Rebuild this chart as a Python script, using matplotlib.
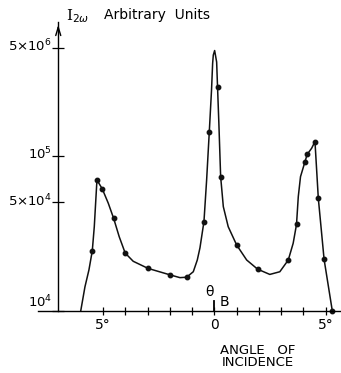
import numpy as np
import matplotlib
matplotlib.use("Agg")
import matplotlib.pyplot as plt
from matplotlib.ticker import NullLocator, FixedLocator
from matplotlib.transforms import ScaledTranslation

# curve: angle of incidence (deg) and I_2w (arbitrary units)
curve_angle = [-6.01, -5.82, -5.64, -5.49, -5.40, -5.34, -5.28, -5.04, -4.77, -4.53,
               -4.28, -4.01, -3.65, -2.98, -2.00, -1.55, -1.25, -0.95, -0.77, -0.65,
               -0.47, -0.35, -0.23, -0.13, -0.08, -0.05, 0.01, 0.10, 0.14, 0.20,
               0.28, 0.40, 0.62, 1.00, 1.45, 1.94, 2.49, 2.94, 3.32, 3.54,
               3.69, 3.77, 3.87, 4.07, 4.17, 4.37, 4.52, 4.67, 4.93, 5.30]
curve_value = [1.0e4, 1.43e4, 1.84e4, 2.44e4, 3.49e4, 4.94e4, 6.98e4, 6.11e4, 4.94e4, 3.95e4,
               3.01e4, 2.36e4, 2.09e4, 1.88e4, 1.71e4, 1.64e4, 1.65e4, 1.79e4, 2.13e4, 2.55e4,
               3.77e4, 6.98e4, 2.39e5, 1.08e6, 2.84e6, 3.84e6, 4.52e6, 2.98e6, 1.22e6, 3.24e5,
               7.33e4, 4.70e4, 3.49e4, 2.66e4, 2.13e4, 1.86e4, 1.72e4, 1.79e4, 2.13e4, 2.73e4,
               3.61e4, 5.45e4, 7.33e4, 9.14e4, 1.05e5, 1.31e5, 1.67e5, 5.32e4, 2.15e4, 1.0e4]

# measured points (dots)
point_angle = [-5.49, -5.28, -5.04, -4.53, -4.01, -2.98, -2.00, -1.25,
               -0.47, -0.23, 0.14, 0.28, 1.00, 1.94, 3.32, 3.69,
               4.07, 4.17, 4.52, 4.67, 4.93, 5.30]
point_value = [2.44e4, 6.98e4, 6.11e4, 3.95e4, 2.36e4, 1.88e4, 1.71e4, 1.65e4,
               3.77e4, 2.39e5, 1.22e6, 7.33e4, 2.66e4, 1.86e4, 2.13e4, 3.61e4,
               9.14e4, 1.05e5, 1.67e5, 5.32e4, 2.15e4, 1.0e4]

ytick_values = [1e4, 5e4, 1e5, 5e6]
ytick_labels = ["10$^4$", "5×10$^4$", "10$^5$", "5×10$^6$"]
xtick_values = [-5, -4, -3, -2, -1, 0, 1, 2, 3, 4, 5]
xtick_labels = ["5°", "", "", "", "", "0", "", "", "", "", "5°"]

# the hand drawn axis is logarithmic but compressed above 10^5
K = 0.4093


def forward(v):
    L = np.log10(np.clip(v, 1e-300, None))
    return np.where(L <= 5, L, 5 + (L - 5) * K)


def inverse(u):
    u = np.asarray(u, dtype=float)
    return np.where(u <= 5, 10.0 ** u, 10.0 ** (5 + (u - 5) / K))


W, H = 341, 373
fig = plt.figure(figsize=(W / 100, H / 100), dpi=100)
ax = fig.add_axes([38 / W, 62 / H, 303 / W, 289 / H])

ax.set_yscale("function", functions=(forward, inverse))
ax.set_xlim(-7.93, 5.69)
ax.set_ylim(1e4, 10 ** 7.104)

ax.plot(curve_angle, curve_value, color="#111111", lw=1.1, solid_joinstyle="round", clip_on=False)
ax.plot(point_angle, point_value, "o", color="#111111", ms=3.2, clip_on=False)

for s in ["top", "right"]:
    ax.spines[s].set_visible(False)
ax.spines["left"].set_position(("data", -7.02))
ax.spines["left"].set_linewidth(1.0)
ax.spines["bottom"].set_linewidth(1.0)

ax.yaxis.set_major_locator(FixedLocator(ytick_values))
ax.set_yticklabels(ytick_labels)
ax.yaxis.set_minor_locator(NullLocator())
ax.tick_params(axis="y", direction="inout", length=9, width=0.9, pad=0, labelsize=9.5)
for lab, dy in zip(ax.get_yticklabels(), [11, 3, 3, 3]):
    lab.set_transform(lab.get_transform() + ScaledTranslation(0, dy / 100, fig.dpi_scale_trans))

ax.set_xticks(xtick_values)
ax.set_xticklabels(xtick_labels)
ax.tick_params(axis="x", direction="inout", length=6, width=0.9, pad=2, labelsize=10)

# arrow head on the intensity axis
ax.annotate("", xy=(-7.02, 1.0), xycoords=("data", "axes fraction"),
            xytext=(-7.02, 0.96), textcoords=("data", "axes fraction"),
            arrowprops=dict(arrowstyle="->,head_length=0.6,head_width=0.18", lw=1.0, color="black"))

# Bragg angle marker
ax.plot([0, 0], [1e4, 1.16e4], color="black", lw=1.3, clip_on=False, zorder=5)
ax.text(-0.2, 1.33e4, "θ", fontsize=10, ha="center", va="center")
ax.text(0.45, 1.15e4, "B", fontsize=10, ha="center", va="center")

fig.text(66 / W, 1 - 16 / H, "I$_{2\\omega}$", fontsize=11, ha="left", va="center",
         family="DejaVu Serif")
fig.text(104 / W, 1 - 15 / H, "Arbitrary  Units", fontsize=10, ha="left", va="center")
fig.text(258 / W, 1 - 357 / H, "ANGLE   OF\nINCIDENCE", fontsize=9.5, ha="center",
         va="center", linespacing=0.9)

fig.savefig("out.png", dpi=100)
